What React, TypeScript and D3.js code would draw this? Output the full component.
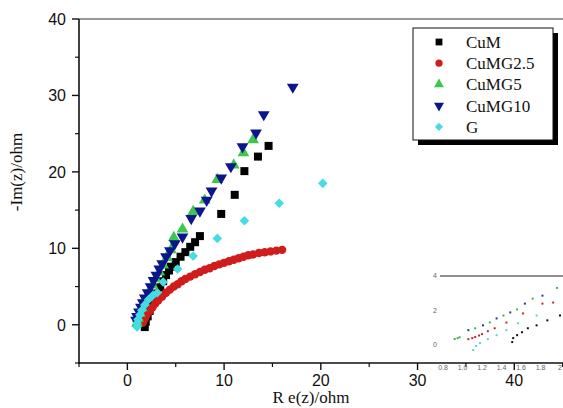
import React from "react";
import * as d3 from "d3";

// main plot data [Re(z), -Im(z)]
const cuM: [number, number][] = [
  [1.8, -0.3], [1.9, 0.4], [2.1, 1.1], [2.3, 1.8], [2.5, 2.5], [2.8, 3.3], [3.1, 4.1],
  [3.4, 4.9], [3.7, 5.7], [4.0, 6.5], [4.3, 7.1], [4.5, 7.6], [5.0, 8.2], [5.5, 8.9],
  [6.0, 9.5], [6.5, 10.2], [7.0, 10.8], [7.5, 11.6], [9.7, 14.5], [11.1, 17.0],
  [12.1, 20.1], [13.5, 22.0], [14.6, 23.4],
];
const cuMG25: [number, number][] = [
  [1.6, 0.3], [1.8, 0.8], [2.0, 1.3], [2.3, 1.8], [2.6, 2.3], [2.9, 2.8], [3.2, 3.2],
  [3.6, 3.7], [4.0, 4.2], [4.4, 4.6], [4.8, 5.0], [5.2, 5.3], [5.6, 5.7], [6.0, 6.0],
  [6.5, 6.3], [7.0, 6.6], [7.5, 6.9], [8.0, 7.2], [8.5, 7.4], [9.0, 7.7], [9.5, 7.9],
  [10.0, 8.1], [10.5, 8.3], [11.0, 8.5], [11.5, 8.7], [12.0, 8.9], [12.5, 9.1],
  [13.0, 9.2], [13.6, 9.4], [14.2, 9.5], [14.8, 9.6], [15.4, 9.7], [16.0, 9.8],
];
const cuMG5: [number, number][] = [
  [1.0, 0.2], [1.1, 0.8], [1.3, 1.5], [1.5, 2.2], [1.7, 2.9], [2.0, 3.6], [2.3, 4.4],
  [2.6, 5.2], [2.9, 6.0], [3.3, 6.9], [3.7, 7.8], [4.1, 8.8], [4.5, 9.8], [4.8, 11.4],
  [5.7, 12.5], [6.8, 14.8], [8.0, 16.3], [9.3, 19.0], [11.0, 20.9], [12.0, 22.5],
  [13.0, 24.2],
];
const cuMG10: [number, number][] = [
  [0.9, 0.6], [1.0, 1.1], [1.2, 1.7], [1.4, 2.3], [1.6, 2.9], [1.8, 3.5], [2.1, 4.2],
  [2.4, 5.0], [2.7, 5.8], [3.0, 6.5], [3.3, 7.3], [3.6, 8.0], [4.0, 8.9], [4.4, 9.7],
  [4.9, 10.6], [5.7, 11.5], [6.6, 13.9], [7.5, 14.9], [8.2, 16.3], [8.7, 17.5],
  [9.7, 19.2], [10.7, 20.7], [11.9, 23.3], [13.3, 25.1], [14.1, 27.5], [17.1, 31.1],
];
const gOnly: [number, number][] = [
  [1.0, -0.3], [1.0, 0.2], [1.1, 0.7], [1.3, 1.3], [1.5, 1.9], [1.8, 2.6], [2.2, 3.3],
  [2.6, 3.8], [3.1, 4.2], [3.7, 5.6], [5.2, 7.3], [6.8, 9.0], [9.3, 11.3], [12.1, 13.6],
  [15.7, 15.9], [20.2, 18.5],
];

// inset (zoom of the start of the curves)
const insetGreen: [number, number][] = [
  [0.92, 0.35], [0.95, 0.4], [0.97, 0.45], [1.13, 0.97], [1.28, 1.31], [1.42, 1.71],
  [1.56, 2.06], [1.72, 2.69], [1.97, 3.31],
];
const insetBlue: [number, number][] = [
  [1.06, 0.86], [1.21, 1.14], [1.35, 1.54], [1.49, 1.89], [1.64, 2.4], [1.82, 2.86],
];
const insetRed: [number, number][] = [
  [1.06, 0.34], [1.1, 0.4], [1.13, 0.46], [1.17, 0.55], [1.2, 0.63], [1.26, 0.8],
  [1.33, 0.97], [1.45, 1.3], [1.62, 1.83], [1.82, 2.4], [1.93, 2.46],
];
const insetCyan: [number, number][] = [
  [1.11, -0.29], [1.14, -0.06], [1.18, 0.11], [1.26, 0.34], [1.35, 0.57], [1.45, 0.86],
  [1.57, 1.26], [1.76, 1.71],
];
const insetBlack: [number, number][] = [
  [1.51, 0.17], [1.52, 0.4], [1.56, 0.57], [1.61, 0.74], [1.67, 0.97], [1.76, 1.14],
  [1.87, 1.43], [2.0, 1.71],
];

const xTicks = [0, 10, 20, 30, 40];
const xMinor = [-5, 5, 15, 25, 35, 45];
const yTicks = [0, 10, 20, 30, 40];
const yMinor = [-5, 5, 15, 25, 35];
const insetXTicks = ["0.8", "1.0", "1.2", "1.4", "1.6", "1.8", "2"];
const insetYTicks = [0, 2, 4];

const series = [
  { name: "CuM", data: cuM, color: "#000000", shape: "square" },
  { name: "CuMG2.5", data: cuMG25, color: "#d01c1c", shape: "circle" },
  { name: "CuMG5", data: cuMG5, color: "#3cc84c", shape: "up" },
  { name: "CuMG10", data: cuMG10, color: "#0c168c", shape: "down" },
  { name: "G", data: gOnly, color: "#45dce4", shape: "diamond" },
];

const W = 563;
const H = 408;

const symPath = (shape: string) => {
  if (shape === "square") return d3.symbol(d3.symbolSquare, 64)();
  if (shape === "circle") return d3.symbol(d3.symbolCircle, 56)();
  if (shape === "diamond") return d3.symbol(d3.symbolSquare, 46)();
  return d3.symbol(d3.symbolTriangle, 60)();
};
const symRot = (shape: string) =>
  shape === "down" ? 180 : shape === "diamond" ? 45 : 0;

export default function App() {
  const x = d3.scaleLinear().domain([-5, 50]).range([79, 611]);
  const y = d3.scaleLinear().domain([-5, 40]).range([363, 19]);

  const ix = d3.scaleLinear().domain([0.8, 2]).range([443, 560]);
  const iy = d3.scaleLinear().domain([0, 4]).range([345, 276]);
  const insetSets = [
    { d: insetBlack, c: "#111" },
    { d: insetRed, c: "#c0282a" },
    { d: insetGreen, c: "#3cb84c" },
    { d: insetBlue, c: "#2a3a80" },
    { d: insetCyan, c: "#5cd0dc" },
  ];

  const tickFont = "Arial, 'Liberation Sans', sans-serif";
  const serif = "'Times New Roman', 'Liberation Serif', serif";

  return (
    <svg width={W} height={H} style={{ position: "absolute", left: 0, top: 0, background: "#fff" }}>
      <rect width={W} height={H} fill="#fff" />
      {/* axes */}
      <line x1={79} x2={79} y1={19} y2={364} stroke="#111" strokeWidth={1.6} />
      <line x1={78} x2={W} y1={363} y2={363} stroke="#111" strokeWidth={1.6} />
      <line x1={79} x2={W} y1={19} y2={19} stroke="#333" strokeWidth={1.2} />
      {yTicks.map((t) => (
        <g key={"y" + t}>
          <line x1={72} x2={79} y1={y(t)} y2={y(t)} stroke="#111" strokeWidth={1.4} />
          <text x={66} y={y(t)} dy="0.36em" textAnchor="end" fontFamily={tickFont} fontSize={16} fill="#111">
            {t}
          </text>
        </g>
      ))}
      {yMinor.map((t) => (
        <line key={"ym" + t} x1={75} x2={79} y1={y(t)} y2={y(t)} stroke="#111" strokeWidth={1.2} />
      ))}
      {xTicks.map((t) => (
        <g key={"x" + t}>
          <line x1={x(t)} x2={x(t)} y1={363} y2={370} stroke="#111" strokeWidth={1.4} />
          <text x={x(t)} y={386} textAnchor="middle" fontFamily={tickFont} fontSize={16} fill="#111">
            {t}
          </text>
        </g>
      ))}
      {xMinor.map((t) => (
        <line key={"xm" + t} x1={x(t)} x2={x(t)} y1={363} y2={367} stroke="#111" strokeWidth={1.2} />
      ))}
      <text
        transform={`translate(22,${172}) rotate(-90)`}
        textAnchor="middle"
        fontFamily={serif}
        fontSize={17}
        fill="#111"
      >
        -Im(z)/ohm
      </text>
      <text x={311} y={403} textAnchor="middle" fontFamily={serif} fontSize={17} fill="#111">
        R e(z)/ohm
      </text>

      {/* data */}
      {series.map((s) => (
        <g key={s.name}>
          {s.data.map((p, i) => (
            <path
              key={i}
              d={symPath(s.shape) || ""}
              fill={s.color}
              transform={`translate(${x(p[0])},${y(p[1])}) rotate(${symRot(s.shape)})`}
            />
          ))}
        </g>
      ))}

      {/* inset */}
      <line x1={440} x2={W} y1={276} y2={276} stroke="#222" strokeWidth={1} />
      {insetYTicks.map((t) => (
        <text key={"iy" + t} x={437} y={iy(t)} dy="0.35em" textAnchor="end" fontFamily={tickFont} fontSize={7} fill="#666">
          {t}
        </text>
      ))}
      {insetXTicks.map((t) => (
        <text key={"ix" + t} x={ix(+t)} y={370} textAnchor="middle" fontFamily={tickFont} fontSize={7} fill="#666">
          {t}
        </text>
      ))}
      {insetSets.map((s, k) => (
        <g key={"is" + k}>
          {s.d.map((p, i) => (
            <rect key={i} x={ix(p[0]) - 1} y={iy(p[1]) - 1} width={2} height={2} fill={s.c} />
          ))}
        </g>
      ))}

      {/* legend */}
      <rect x={418} y={33} width={140} height={112} fill="#000" />
      <rect x={413} y={28} width={140} height={112} fill="#fff" stroke="#111" strokeWidth={1} />
      {series.map((s, i) => (
        <g key={"lg" + s.name} transform={`translate(0,${42 + i * 21.2})`}>
          <path
            d={symPath(s.shape) || ""}
            fill={s.color}
            transform={`translate(439,0) rotate(${symRot(s.shape)}) scale(0.85)`}
          />
          <text x={466} y={0} dy="0.35em" fontFamily={serif} fontSize={17} fill="#111">
            {s.name}
          </text>
        </g>
      ))}
    </svg>
  );
}
